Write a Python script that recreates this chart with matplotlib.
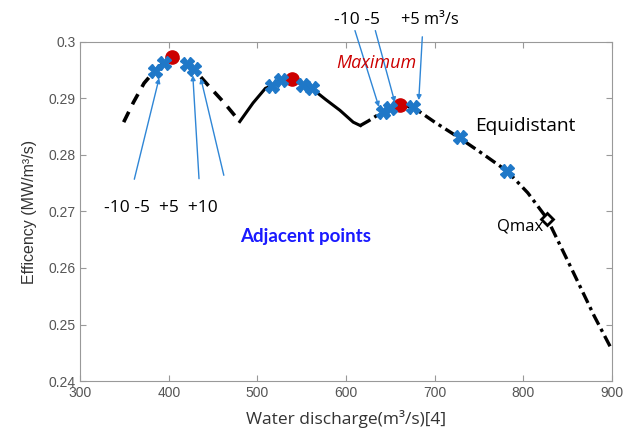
import matplotlib.pyplot as plt

# curve, split by line style
left_q = [349, 360, 372, 383, 394, 404, 419, 428, 445, 462, 480]
left_eff = [0.2858, 0.2893, 0.2927, 0.2947, 0.2963, 0.2975, 0.2959, 0.2952, 0.2922, 0.2893, 0.2859]
mid_q = [480, 495, 509, 516, 527, 539, 551, 561, 577, 593, 608, 616]
mid_eff = [0.2859, 0.2892, 0.2918, 0.2922, 0.2933, 0.2934, 0.2924, 0.2918, 0.2898, 0.2879, 0.2858, 0.2852]
right_q = [616, 625, 635, 642, 649, 661, 676, 700, 728, 755, 782, 805, 827, 854, 880, 900]
right_eff = [0.2852, 0.2860, 0.2870, 0.2876, 0.2883, 0.2889, 0.2884, 0.2858, 0.2830, 0.2801,
             0.2771, 0.2733, 0.2687, 0.2600, 0.2515, 0.2455]

# marked points
cross_q = [384, 395, 420, 428, 516, 527, 551, 561, 642, 649, 676, 728, 782]
cross_eff = [0.2948, 0.2962, 0.2961, 0.2952, 0.2922, 0.2933, 0.2924, 0.2918, 0.2876, 0.2883, 0.2885, 0.2831, 0.2771]
max_q = [404, 539, 661]
max_eff = [0.2974, 0.2934, 0.2889]
qmax_q = 827
qmax_eff = 0.2687

# arrows: (text end, point end)
arrows = [((361, 0.2757), (389, 0.2936)),
          ((434, 0.2758), (427, 0.2941)),
          ((462, 0.2764), (436, 0.2936)),
          ((610, 0.3020), (637, 0.2885)),
          ((633, 0.3020), (655, 0.2893)),
          ((686, 0.3009), (682, 0.2897))]

x_ticks = [300, 400, 500, 600, 700, 800, 900]
y_ticks = [0.24, 0.25, 0.26, 0.27, 0.28, 0.29, 0.3]
y_labels = ["0.24", "0.25", "0.26", "0.27", "0.28", "0.29", "0.3"]

plt.rcParams['font.family'] = ['Liberation Sans', 'DejaVu Sans']
word_font = ['Open Sans', 'DejaVu Sans']

fig = plt.figure(figsize=(6.27, 4.32), dpi=100)
ax = fig.add_axes([0.128, 0.118, 0.848, 0.785])

ax.plot(left_q, left_eff, color='black', lw=2.6, linestyle=(0, (3.2, 2.3)), zorder=2)
ax.plot(mid_q, mid_eff, color='black', lw=2.2, zorder=2)
ax.plot(right_q, right_eff, color='black', lw=2.4, linestyle=(0, (3.5, 1.4, 1, 1.4)), zorder=2)

ax.plot(max_q, max_eff, 'o', color='#cc0000', ms=9.5, zorder=3)
ax.plot(cross_q, cross_eff, 'X', color='#1f78c8', ms=10, mec='#1f78c8', zorder=4)
ax.plot([qmax_q], [qmax_eff], 'D', mfc='white', mec='black', mew=2, ms=6, zorder=4)

for (x0, y0), (x1, y1) in arrows:
    ax.annotate('', xy=(x1, y1), xytext=(x0, y0), annotation_clip=False,
                arrowprops=dict(arrowstyle='-|>', color='#2f86d6', lw=1, mutation_scale=7,
                                shrinkA=0, shrinkB=0))

ax.text(391, 0.2707, '-10 -5  +5  +10', fontsize=12.5, ha='center', va='center', family=word_font)
ax.text(612, 0.3039, '-10 -5', fontsize=12.5, ha='center', va='center', clip_on=False, family=word_font)
ax.text(694, 0.3039, '+5 m³/s', fontsize=11.8, ha='center', va='center', clip_on=False, family=word_font)
ax.text(634, 0.2962, 'Maximum', fontsize=13, ha='center', va='center', color='#cc0000',
        style='italic', family=word_font)
ax.text(802, 0.2852, 'Equidistant', fontsize=13.8, ha='center', va='center', family=word_font)
ax.text(554, 0.2655, 'Adjacent points', fontsize=13.5, ha='center', va='center',
        color='#1a1aff', fontweight='bold', family='Lato')
ax.text(796, 0.2673, 'Qmax', fontsize=12, ha='center', va='center', family=word_font)

ax.set_xlim(300, 900)
ax.set_ylim(0.24, 0.3)
ax.set_xticks(x_ticks)
ax.set_yticks(y_ticks)
ax.set_yticklabels(y_labels)
ax.tick_params(direction='in', top=True, right=True, colors='#999999', labelcolor='#555555',
               labelsize=10, length=4)
for s in ax.spines.values():
    s.set_color('#999999')

ax.set_xlabel('Water discharge(m³/s)[4]', fontsize=12.5, color='#333333', labelpad=7, family=word_font)
ax.set_ylabel('Efficency (MW/m³/s)', fontsize=11.5, color='#333333', labelpad=8)

fig.savefig('out.png', dpi=100)
